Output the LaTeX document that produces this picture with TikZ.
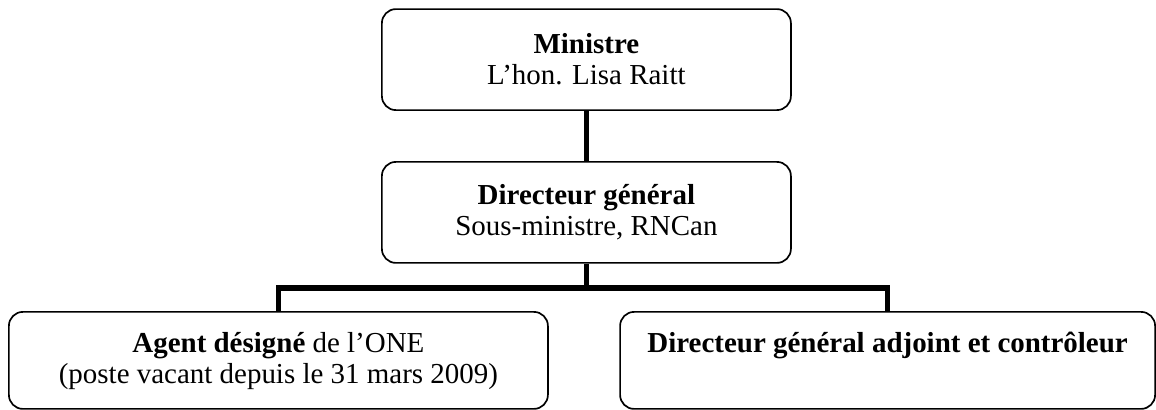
\documentclass[tikz,border=0pt]{standalone}
\usepackage{fontspec}
\setmainfont{Liberation Serif}
\begin{document}
\begin{tikzpicture}[
    box/.style={draw,line width=1.2pt,rounded corners=3.5mm,align=center},
    link/.style={line width=3.9pt},
    font=\fontsize{20.6}{22}\selectfont]
    \useasboundingbox (0,0) rectangle (28.9,10.25);
    % Boxes
    \node[box,minimum width=10.225cm,minimum height=2.525cm] (ministre) at (14.66,8.76)
        {\textbf{Ministre}\\L'hon. Lisa Raitt};
    \node[box,minimum width=10.225cm,minimum height=2.525cm] (dg) at (14.66,4.94)
        {\textbf{Directeur général}\\Sous-ministre, RNCan};
    \node[box,minimum width=13.475cm,minimum height=2.425cm] (agent) at (6.96,1.24) {};
    \node[box,minimum width=13.375cm,minimum height=2.425cm] (dga) at (22.19,1.24) {};
    % Box texts
    \node[anchor=base,align=center] (agenttxt) at ([yshift=-1.8cm]agent.north)
        {\textbf{Agent désigné} de l'ONE\\(poste vacant depuis le 31 mars 2009)};
    \node[anchor=base] (dgatxt) at ([yshift=-1.025cm]dga.north)
        {\textbf{Directeur général adjoint et contrôleur}};
    % Links
    \draw[link] (ministre) -- (dg);
    \draw[link] (dg.south) -- ++(0,-0.61) coordinate (split);
    \draw[link] (agent.north) |- (split) -| (dga.north);
\end{tikzpicture}
\end{document}
